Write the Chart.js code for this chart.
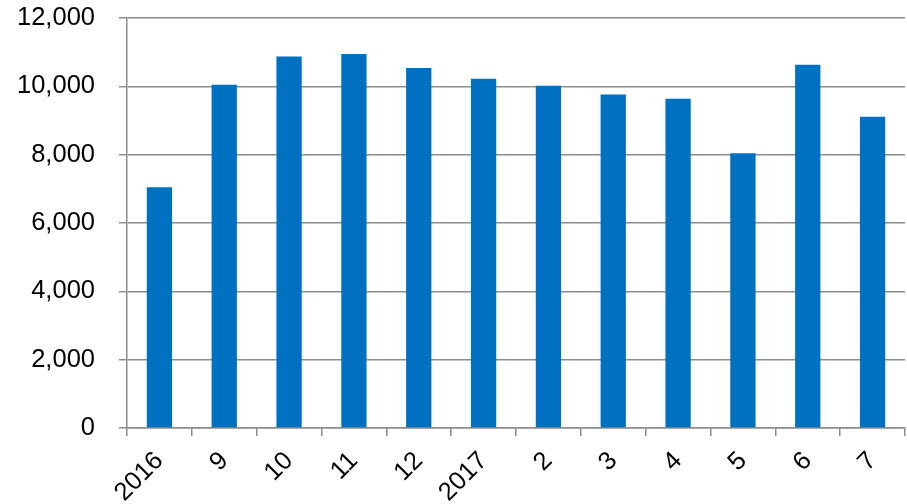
<!DOCTYPE html>
<html>
<head>
<meta charset="utf-8">
<script src="https://cdn.jsdelivr.net/npm/chart.js@4/dist/chart.umd.min.js"></script>
<style>
html,body{margin:0;padding:0;background:#fff;}
#wrap{width:907px;height:504px;position:relative;}
</style>
</head>
<body>
<div id="wrap"><canvas id="c" width="907" height="504"></canvas></div>
<script>
const categories = ['2016','9','10','11','12','2017','2','3','4','5','6','7'];
const values = [7050, 10050, 10870, 10950, 10540, 10225, 10020, 9760, 9640, 8040, 10630, 9110];
const yTicks = [0, 2000, 4000, 6000, 8000, 10000, 12000];

const gridColor = '#8c8c8c';
const font = {family: '"Liberation Sans", Arial, sans-serif', size: 25.5};

new Chart(document.getElementById('c'), {
  type: 'bar',
  data: {
    labels: categories,
    datasets: [{
      data: values,
      backgroundColor: '#0070C0',
      borderWidth: 0,
      categoryPercentage: 1.0,
      barPercentage: 0.39
    }]
  },
  options: {
    responsive: false,
    animation: false,
    devicePixelRatio: 1,
    layout: {padding: {top: 18, right: 2, left: 0, bottom: 0}},
    plugins: {legend: {display: false}, tooltip: {enabled: false}},
    scales: {
      x: {
        offset: true,
        grid: {display: true, drawOnChartArea: false, drawTicks: true, tickLength: 8, color: gridColor, lineWidth: 1.5, offset: true},
        border: {display: true, color: gridColor, width: 1.5},
        ticks: {color: '#000', font: font, minRotation: 45, maxRotation: 45, padding: 10, autoSkip: false},
        afterFit: function(s){ s.height = 76; s.paddingLeft = 0; s.paddingRight = 0; }
      },
      y: {
        min: 0, max: 12000,
        afterBuildTicks: function(s){ s.ticks = yTicks.map(v => ({value: v})); },
        grid: {color: gridColor, lineWidth: 1.5, tickLength: 8, drawTicks: true},
        border: {display: true, color: gridColor, width: 1.5},
        ticks: {color: '#000', font: font, padding: 24,
          callback: v => v.toLocaleString('en-US')},
        afterFit: function(s){ s.width = 127; s.paddingTop = 0; s.paddingBottom = 0; }
      }
    }
  }
});
</script>
</body>
</html>
